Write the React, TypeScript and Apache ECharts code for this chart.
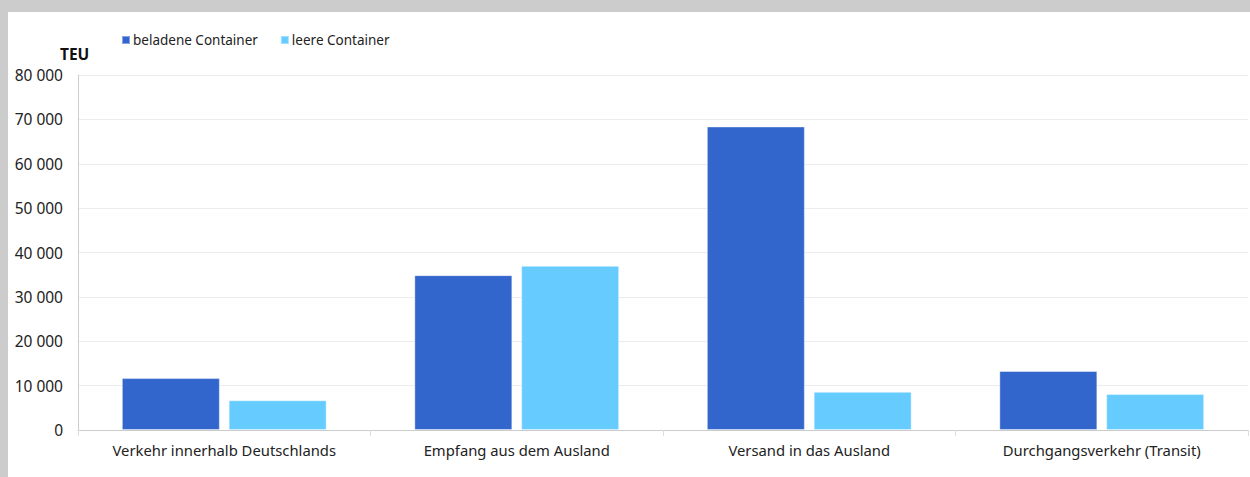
import React, { useEffect, useRef } from "react";
import * as echarts from "echarts";

const categories = [
  "Verkehr innerhalb Deutschlands",
  "Empfang aus dem Ausland",
  "Versand in das Ausland",
  "Durchgangsverkehr (Transit)",
];
const seriesNames = ["beladene Container", "leere Container"];
const beladen = [11700, 34900, 68400, 13300];
const leer = [6700, 37000, 8600, 8100];
const yMax = 80000;
const yInterval = 10000;
const unitLabel = "TEU";

const FONT = "'Noto Sans', sans-serif";
const fmt = (v: number) => String(v).replace(/\B(?=(\d{3})+(?!\d))/g, " ");

export default function App() {
  const ref = useRef<HTMLDivElement>(null);
  useEffect(() => {
    if (!ref.current) return;
    const chart = echarts.init(ref.current, undefined, { renderer: "svg" });
    chart.setOption({
      animation: false,
      textStyle: { fontFamily: FONT, color: "#222" },
      color: ["#3366cc", "#66ccff"],
      legend: {
        left: 108,
        top: 16,
        itemWidth: 8,
        itemHeight: 8,
        itemGap: 22,
        icon: "rect",
        textStyle: { fontFamily: FONT, fontSize: 13.5, color: "#222", padding: [0, 0, 0, -2] },
        data: seriesNames,
      },
      graphic: [
        {
          type: "text",
          left: 52,
          top: 34,
          style: { text: unitLabel, font: `bold 15.5px ${FONT}`, fill: "#111" },
        },
      ],
      grid: { left: 70, right: 2, top: 63, bottom: 47 },
      xAxis: {
        type: "category",
        data: categories,
        axisLine: { lineStyle: { color: "#cccccc" } },
        axisTick: { show: true, length: 6, lineStyle: { color: "#dddddd" } },
        axisLabel: { fontFamily: FONT, fontSize: 14.8, color: "#222", margin: 12 },
      },
      yAxis: {
        type: "value",
        min: 0,
        max: yMax,
        interval: yInterval,
        axisLine: { show: true, lineStyle: { color: "#cccccc" } },
        axisTick: { show: false },
        splitLine: { lineStyle: { color: "#ececec" } },
        axisLabel: {
          fontFamily: FONT,
          fontSize: 15.5,
          color: "#222",
          margin: 15,
          formatter: (v: number) => fmt(v),
        },
      },
      series: [
        {
          name: seriesNames[0],
          type: "bar",
          data: beladen,
          barWidth: 98,
          barGap: "9%",
          itemStyle: { borderColor: "rgba(255,255,255,0.4)", borderWidth: 1 },
        },
        {
          name: seriesNames[1],
          type: "bar",
          data: leer,
          barWidth: 98,
          barGap: "9%",
          itemStyle: { borderColor: "rgba(255,255,255,0.4)", borderWidth: 1 },
        },
      ],
    });
    return () => chart.dispose();
  }, []);
  return (
    <div style={{ position: "absolute", left: 0, top: 0, width: 1250, height: 477, background: "#cccccc" }}>
      <div style={{ position: "absolute", left: 8, top: 12, width: 1242, height: 465, background: "#ffffff" }}>
        <div ref={ref} style={{ width: 1242, height: 465 }} />
      </div>
    </div>
  );
}
